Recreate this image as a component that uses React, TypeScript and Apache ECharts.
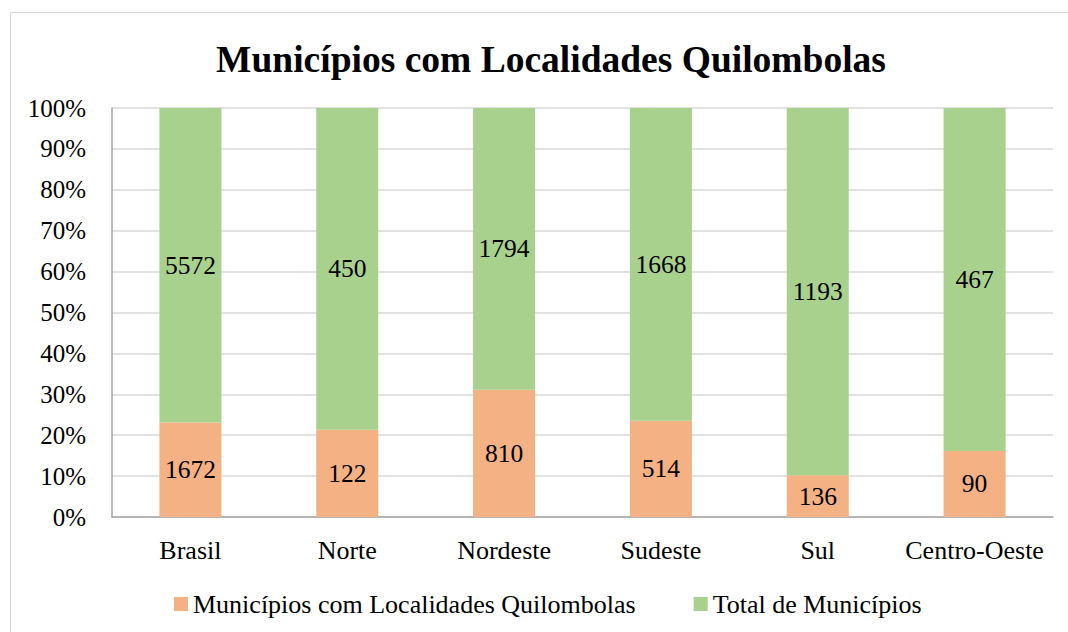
import React, { useEffect, useRef } from "react";
import * as echarts from "echarts";

const categories = ["Brasil", "Norte", "Nordeste", "Sudeste", "Sul", "Centro-Oeste"];
const quilombolas = [1672, 122, 810, 514, 136, 90];
const totalMunicipios = [5572, 450, 1794, 1668, 1193, 467];
const seriesNames = ["Municípios com Localidades Quilombolas", "Total de Municípios"];

const FONT = "Liberation Serif";

export default function App() {
  const ref = useRef<HTMLDivElement>(null);
  useEffect(() => {
    if (!ref.current) return;
    const chart = echarts.init(ref.current, undefined, { renderer: "svg" });
    const sums = quilombolas.map((v, i) => v + totalMunicipios[i]);
    const mk = (arr: number[]) =>
      arr.map((v, i) => ({ value: (v / sums[i]) * 100, raw: v }));
    const labelCfg = {
      show: true,
      position: "inside",
      color: "#000",
      fontFamily: FONT,
      fontSize: 25.5,
      formatter: (p: any) => String(p.data.raw),
    };
    chart.setOption({
      animation: false,
      backgroundColor: "#fff",
      textStyle: { fontFamily: FONT },
      graphic: [
        {
          type: "rect",
          shape: { x: 10.5, y: 12.5, width: 1100, height: 700 },
          style: { fill: "none", stroke: "#d9d9d9", lineWidth: 1 },
          silent: true,
        },
      ],
      title: {
        text: "Municípios com Localidades Quilombolas",
        left: 546,
        textAlign: "center",
        top: 35,
        textStyle: { fontFamily: FONT, fontSize: 37.5, fontWeight: "bold", color: "#000" },
      },
      legend: {
        top: 586,
        left: 169,
        itemWidth: 14,
        itemHeight: 14,
        itemGap: 58,
        icon: "rect",
        textStyle: { fontFamily: FONT, fontSize: 26, color: "#000" },
        data: seriesNames,
      },
      grid: { left: 112, right: 15, top: 108, bottom: 115 },
      xAxis: {
        type: "category",
        data: categories,
        axisLine: { lineStyle: { color: "#a6a6a6", width: 1.5 } },
        axisTick: { show: false },
        axisLabel: { color: "#000", fontFamily: FONT, fontSize: 26, margin: 20, interval: 0 },
      },
      yAxis: {
        type: "value",
        min: 0,
        max: 100,
        interval: 10,
        axisLine: { show: true, lineStyle: { color: "#a6a6a6", width: 1.5 } },
        axisTick: { show: false },
        splitLine: { lineStyle: { color: "#d9d9d9", width: 1.5 } },
        axisLabel: {
          color: "#000",
          fontFamily: FONT,
          fontSize: 25,
          margin: 26,
          formatter: "{value}%",
        },
      },
      series: [
        {
          name: seriesNames[0],
          type: "bar",
          stack: "s",
          barWidth: 62,
          itemStyle: { color: "#F4B183" },
          label: labelCfg,
          data: mk(quilombolas),
        },
        {
          name: seriesNames[1],
          type: "bar",
          stack: "s",
          barWidth: 62,
          itemStyle: { color: "#A9D18E" },
          label: labelCfg,
          data: mk(totalMunicipios),
        },
      ],
    });
    return () => chart.dispose();
  }, []);
  return (
    <div
      ref={ref}
      style={{ position: "fixed", left: 0, top: 0, width: 1068, height: 632 }}
    />
  );
}
